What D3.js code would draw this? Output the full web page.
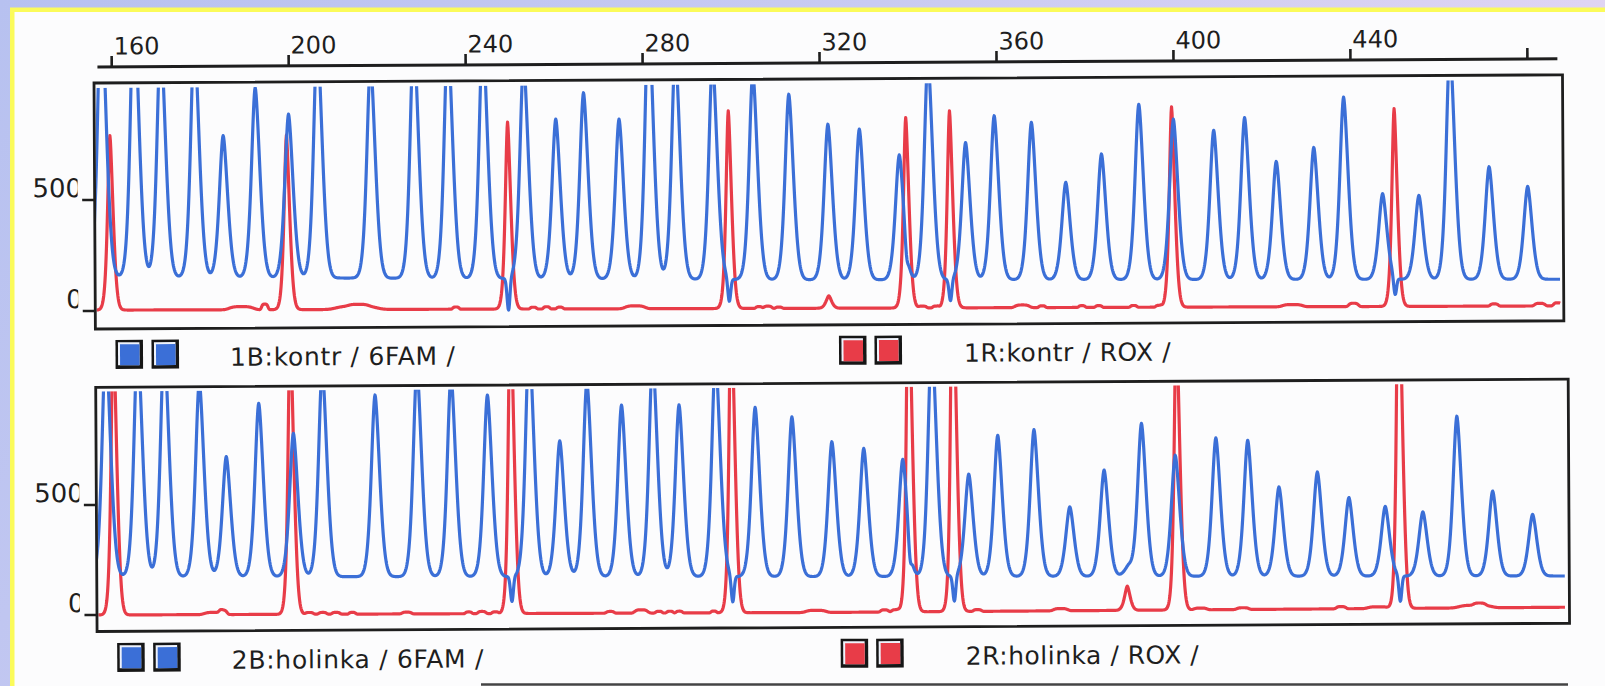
<!DOCTYPE html>
<html><head><meta charset="utf-8">
<script src="https://cdn.jsdelivr.net/npm/d3@7"></script>
<style>html,body{margin:0;padding:0;overflow:hidden;background:#fff}</style>
</head><body>
<svg id="chart" width="1605" height="686"></svg>
<script>
// ---------------- DATA ----------------
const bpTicks = [160, 200, 240, 280, 320, 360, 400, 440, 480];
const bpTickLabels = ["160", "200", "240", "280", "320", "360", "400", "440", ""];
const yTicks = [0, 500];
const yTickLabels = ["0", "500"];
const legendBlue = ["1B:kontr / 6FAM /", "2B:holinka / 6FAM /"];
const legendRed = ["1R:kontr / ROX /", "2R:holinka / ROX /"];

// trace extent (bp)
const range1 = [155.7, 487.1];
const range2 = [155.9, 487.8];

// baselines [bp, value]
const blueBase1 = [[155, 153], [320, 122], [488, 106]];
const redBase1 = [[155, 4], [320, -6], [488, -14]];
const blueBase2 = [[155, 174], [320, 156], [488, 140]];
const redBase2 = [[155, 0], [320, -7], [488, -2]];

// panel 1 blue peaks [bp, apex value] (values above ~1000 are off-scale)
const blue1 = [[157.7,1420],[165.1,1420],[171.1,1240],[178.7,1240],[185.1,787],[192.4,1002],[199.9,882],
  [206.5,1240],[218.5,1115],[228.3,1240],[236.0,1240],[243.9,1240],[253.1,1115],[260.3,853],[266.6,971],
  [274.6,851],[281.4,1340],[287.4,1160],[295.8,1115],[304.9,1060],[313.0,959],[321.8,823],[328.9,800],
  [337.9,683],[344.5,1115],[352.9,737],[359.4,857],[367.8,826],[375.5,555],[383.6,682],[392.1,905],
  [399.9,837],[409.0,786],[416.0,842],[423.1,644],[431.6,706],[438.4,932],[447.1,496],[455.3,487],
  [462.5,1160],[471.2,615],[479.9,525]];
// panel 1 blue pull-down dips [bp, minimum value]
const blueDips1 = [[249.4,-10],[299.3,22],[339.4,62],[349.3,22],[449.8,27]];
// panel 1 red peaks [bp, apex value]
const red1 = [[159.5,790],[199.4,787],[249.4,840],[299.3,886],[321.8,50],[339.4,851],[349.3,880],[399.5,892],[449.8,879]];
// panel 1 red small baseline bumps [bp, height, half-width]
const redBumps1 = [[189,14,3],[194.3,25,0.8],[215,15,5],[215.5,8,2.5],[237.5,10,0.8],[255,8,0.8],[258,10,0.8],
  [261,8,0.8],[278,13,2.5],[306,8,0.8],[308,10,1],[310.5,6,0.8],[343,8,1],[346,8,0.8],[365.5,12,1.8],
  [370,8,0.8],[379,8,0.8],[382.8,8,0.8],[390.7,8,0.8],[396.4,8,0.8],[426.6,10,2.5],[440.4,15,1.2],
  [472.2,10,1],[482.5,12,1.3],[486.5,14,1]];

// panel 2
const blue2 = [[158.3,1240],[165.5,1240],[171.5,1240],[179.4,1060],[185.4,717],[192.8,958],[200.6,821],
  [207.2,1115],[219.1,993],[228.6,1115],[236.3,1080],[244.5,990],[254.0,1240],[260.8,780],[267.0,1048],
  [274.8,941],[281.9,1160],[287.8,940],[296.1,1160],[305.0,927],[313.3,883],[322.3,769],[329.5,738],
  [338.3,687],[345.0,1240],[353.2,618],[359.8,794],[368.0,819],[376.0,467],[383.8,633],[389.2,193],
  [392.3,844],[399.9,699],[409.1,777],[416.3,765],[423.3,552],[432.0,619],[439.1,502],[447.3,461],
  [455.8,435],[463.6,869],[471.6,528],[480.6,421]];
const blueDips2 = [[249.8,50],[299.7,39],[339.8,79],[349.8,38],[450.6,26]];
const red2 = [[160.0,1310],[200.0,1310],[249.8,1440],[299.7,1440],[339.8,1580],[349.8,1670],[388.9,105],[400.3,1310],[450.6,1670]];
const redBumps2 = [[182.5,10,2.5],[184.5,15,1],[204,8,1],[207,8,1],[210,8,1],[213.7,8,0.8],[226,8,1.2],
  [240,8,0.8],[243,10,1],[246,8,0.8],[272,8,1],[279,15,1.6],[283,8,0.8],[285.5,8,0.8],[287.6,8,0.8],
  [295.4,8,0.7],[318.5,10,2.5],[334,10,1],[336.5,10,1],[355,8,1],[373.8,10,1.8],[405.4,8,1.6],
  [415,8,1.5],[437.2,10,1.2],[445.5,8,2.5],[467.5,12,4],[468.5,10,1.5]];

// ---------------- LAYOUT ----------------
const W = 1605, H = 686;
const BLUE = "#3b6fd7", RED = "#e83c48", INK = "#1e1e1e";
const x = d3.scaleLinear().domain([160, 480]).range([113.3, 1529]);

const panels = [
  {box:[95.5, 83, 1564, 329], y0:311, y500:200, clipTop:88, range:range1,
   blue:blue1, blueBase:blueBase1, dips:blueDips1, red:red1, redBase:redBase1, bumps:redBumps1, legendY:340},
  {box:[95.5, 387.3, 1568, 631.5], y0:615, y500:505, clipTop:391.5, range:range2,
   blue:blue2, blueBase:blueBase2, dips:blueDips2, red:red2, redBase:redBase2, bumps:redBumps2, legendY:643}
];

const svg = d3.select("#chart");
const defs = svg.append("defs");
const bg = defs.append("linearGradient").attr("id","bg").attr("x1","0").attr("x2","1").attr("y1","0").attr("y2","0.3");
bg.append("stop").attr("offset","0").attr("stop-color","#b7c1f0");
bg.append("stop").attr("offset","0.5").attr("stop-color","#c9cbf2");
bg.append("stop").attr("offset","1").attr("stop-color","#e4d6f3");
svg.append("rect").attr("width",W).attr("height",H).attr("fill","url(#bg)");
svg.append("rect").attr("x",10).attr("y",7.5).attr("width",W).attr("height",H).attr("fill","#fbfb5a");
svg.append("rect").attr("x",14.5).attr("y",12).attr("width",W).attr("height",H).attr("fill","#fcfcfd");

// the scanned sheet is very slightly rotated
const root = svg.append("g").attr("transform","rotate(-0.32, 95, 350)");

// top axis
const axisY = 67;
root.append("line").attr("x1",99).attr("x2",1559).attr("y1",axisY).attr("y2",axisY)
  .attr("stroke",INK).attr("stroke-width",3);
const tg = root.append("g");
tg.selectAll("line").data(bpTicks).join("line")
  .attr("x1",d=>x(d)).attr("x2",d=>x(d)).attr("y1",axisY-11).attr("y2",axisY)
  .attr("stroke",INK).attr("stroke-width",2.6);
tg.selectAll("text").data(bpTicks).join("text")
  .attr("x",d=>x(d)+2).attr("y",54.5)
  .attr("font-family","DejaVu Sans").attr("font-size",24).attr("fill",INK)
  .text((d,i)=>bpTickLabels[i]);

// y-label clip (the scan cuts the right edge of the last digit)
defs.append("clipPath").attr("id","ylab").append("rect").attr("x",0).attr("y",0).attr("width",78.5).attr("height",H);

function shape(d, s, p) { return Math.exp(-Math.pow(Math.abs(d) / s, p)); }
function buildTrace(range, baseArr, peaks, s, p, dips, bumps) {
  const base = d3.scaleLinear().domain(baseArr.map(d=>d[0])).range(baseArr.map(d=>d[1]));
  const pts = [];
  const n = Math.round((range[1] - range[0]) / 0.1);
  for (let i = 0; i <= n; i++) {
    const t = range[0] + i * 0.1;
    let v = base(t);
    for (const [c, h] of peaks) { const dd = t - c; if (Math.abs(dd) < 9) v += (h - base(c)) * shape(dd, s, p); }
    for (const [c, m] of dips) { const dd = t - c; if (Math.abs(dd) < 4) v += (m - base(c)) * shape(dd, 0.45, 2); }
    for (const [c, h, w] of bumps) { const dd = t - c; if (Math.abs(dd) < w * 3) v += h * shape(dd, w, 4); }
    pts.push([t, v]);
  }
  return pts;
}

panels.forEach((P, pi) => {
  const [bx0, by0, bx1, by1] = P.box;
  const y = d3.scaleLinear().domain([0, 500]).range([P.y0, P.y500]);
  const cid = "clip" + pi;
  defs.append("clipPath").attr("id", cid).append("rect")
    .attr("x", bx0 + 1.5).attr("y", P.clipTop).attr("width", bx1 - bx0 - 3).attr("height", by1 - P.clipTop - 1.5);

  const line = d3.line().x(d => x(d[0])).y(d => y(d[1]));
  const g = root.append("g").attr("clip-path", `url(#${cid})`);
  const redPts = buildTrace(P.range, P.redBase, P.red, 0.9, 1.6, [], P.bumps);
  const bluePts = buildTrace(P.range, P.blueBase, P.blue, 1.35, 1.7, P.dips, []);
  g.append("path").attr("d", line(redPts)).attr("fill","none").attr("stroke",RED)
    .attr("stroke-width",3.2).attr("stroke-linejoin","round");
  g.append("path").attr("d", line(bluePts)).attr("fill","none").attr("stroke",BLUE)
    .attr("stroke-width",3.2).attr("stroke-linejoin","round");

  // box
  root.append("rect").attr("x",bx0).attr("y",by0).attr("width",bx1-bx0).attr("height",by1-by0)
    .attr("fill","none").attr("stroke",INK).attr("stroke-width",2.8);

  // y ticks + labels
  root.append("g").selectAll("line").data(yTicks).join("line")
    .attr("x1",83).attr("x2",bx0).attr("y1",d=>y(d)).attr("y2",d=>y(d))
    .attr("stroke",INK).attr("stroke-width",2.4);
  root.append("g").attr("clip-path","url(#ylab)").selectAll("text").data(yTicks).join("text")
    .attr("x",83).attr("y",d=>y(d)-3).attr("text-anchor","end")
    .attr("font-family","DejaVu Sans").attr("font-size",26).attr("fill",INK)
    .text((d,i)=>yTickLabels[i]);

  // legend
  const ly = P.legendY;
  function sq(x0, col) {
    const s = root.append("g");
    s.append("rect").attr("x",x0).attr("y",ly).attr("width",27.5).attr("height",29).attr("fill","#161616");
    s.append("rect").attr("x",x0+2.5).attr("y",ly+2.5).attr("width",21.5).attr("height",23).attr("fill","#eef2fb");
    s.append("rect").attr("x",x0+4.5).attr("y",ly+4.5).attr("width",19.5).attr("height",21).attr("fill",col);
  }
  sq(115.5, BLUE); sq(151.5, BLUE);
  sq(839, RED); sq(874.5, RED);
  root.append("text").attr("x",230).attr("y",ly+26.5).attr("font-family","DejaVu Sans").attr("font-size",25)
    .attr("letter-spacing",0.7).attr("fill",INK).text(legendBlue[pi]);
  root.append("text").attr("x",964).attr("y",ly+26.5).attr("font-family","DejaVu Sans").attr("font-size",25)
    .attr("letter-spacing",0.5).attr("fill",INK).text(legendRed[pi]);
});

// edge of the next panel at the bottom
svg.append("line").attr("x1",481).attr("x2",1568).attr("y1",684.5).attr("y2",684.5)
  .attr("stroke","#444").attr("stroke-width",2.5);
</script>
</body></html>
